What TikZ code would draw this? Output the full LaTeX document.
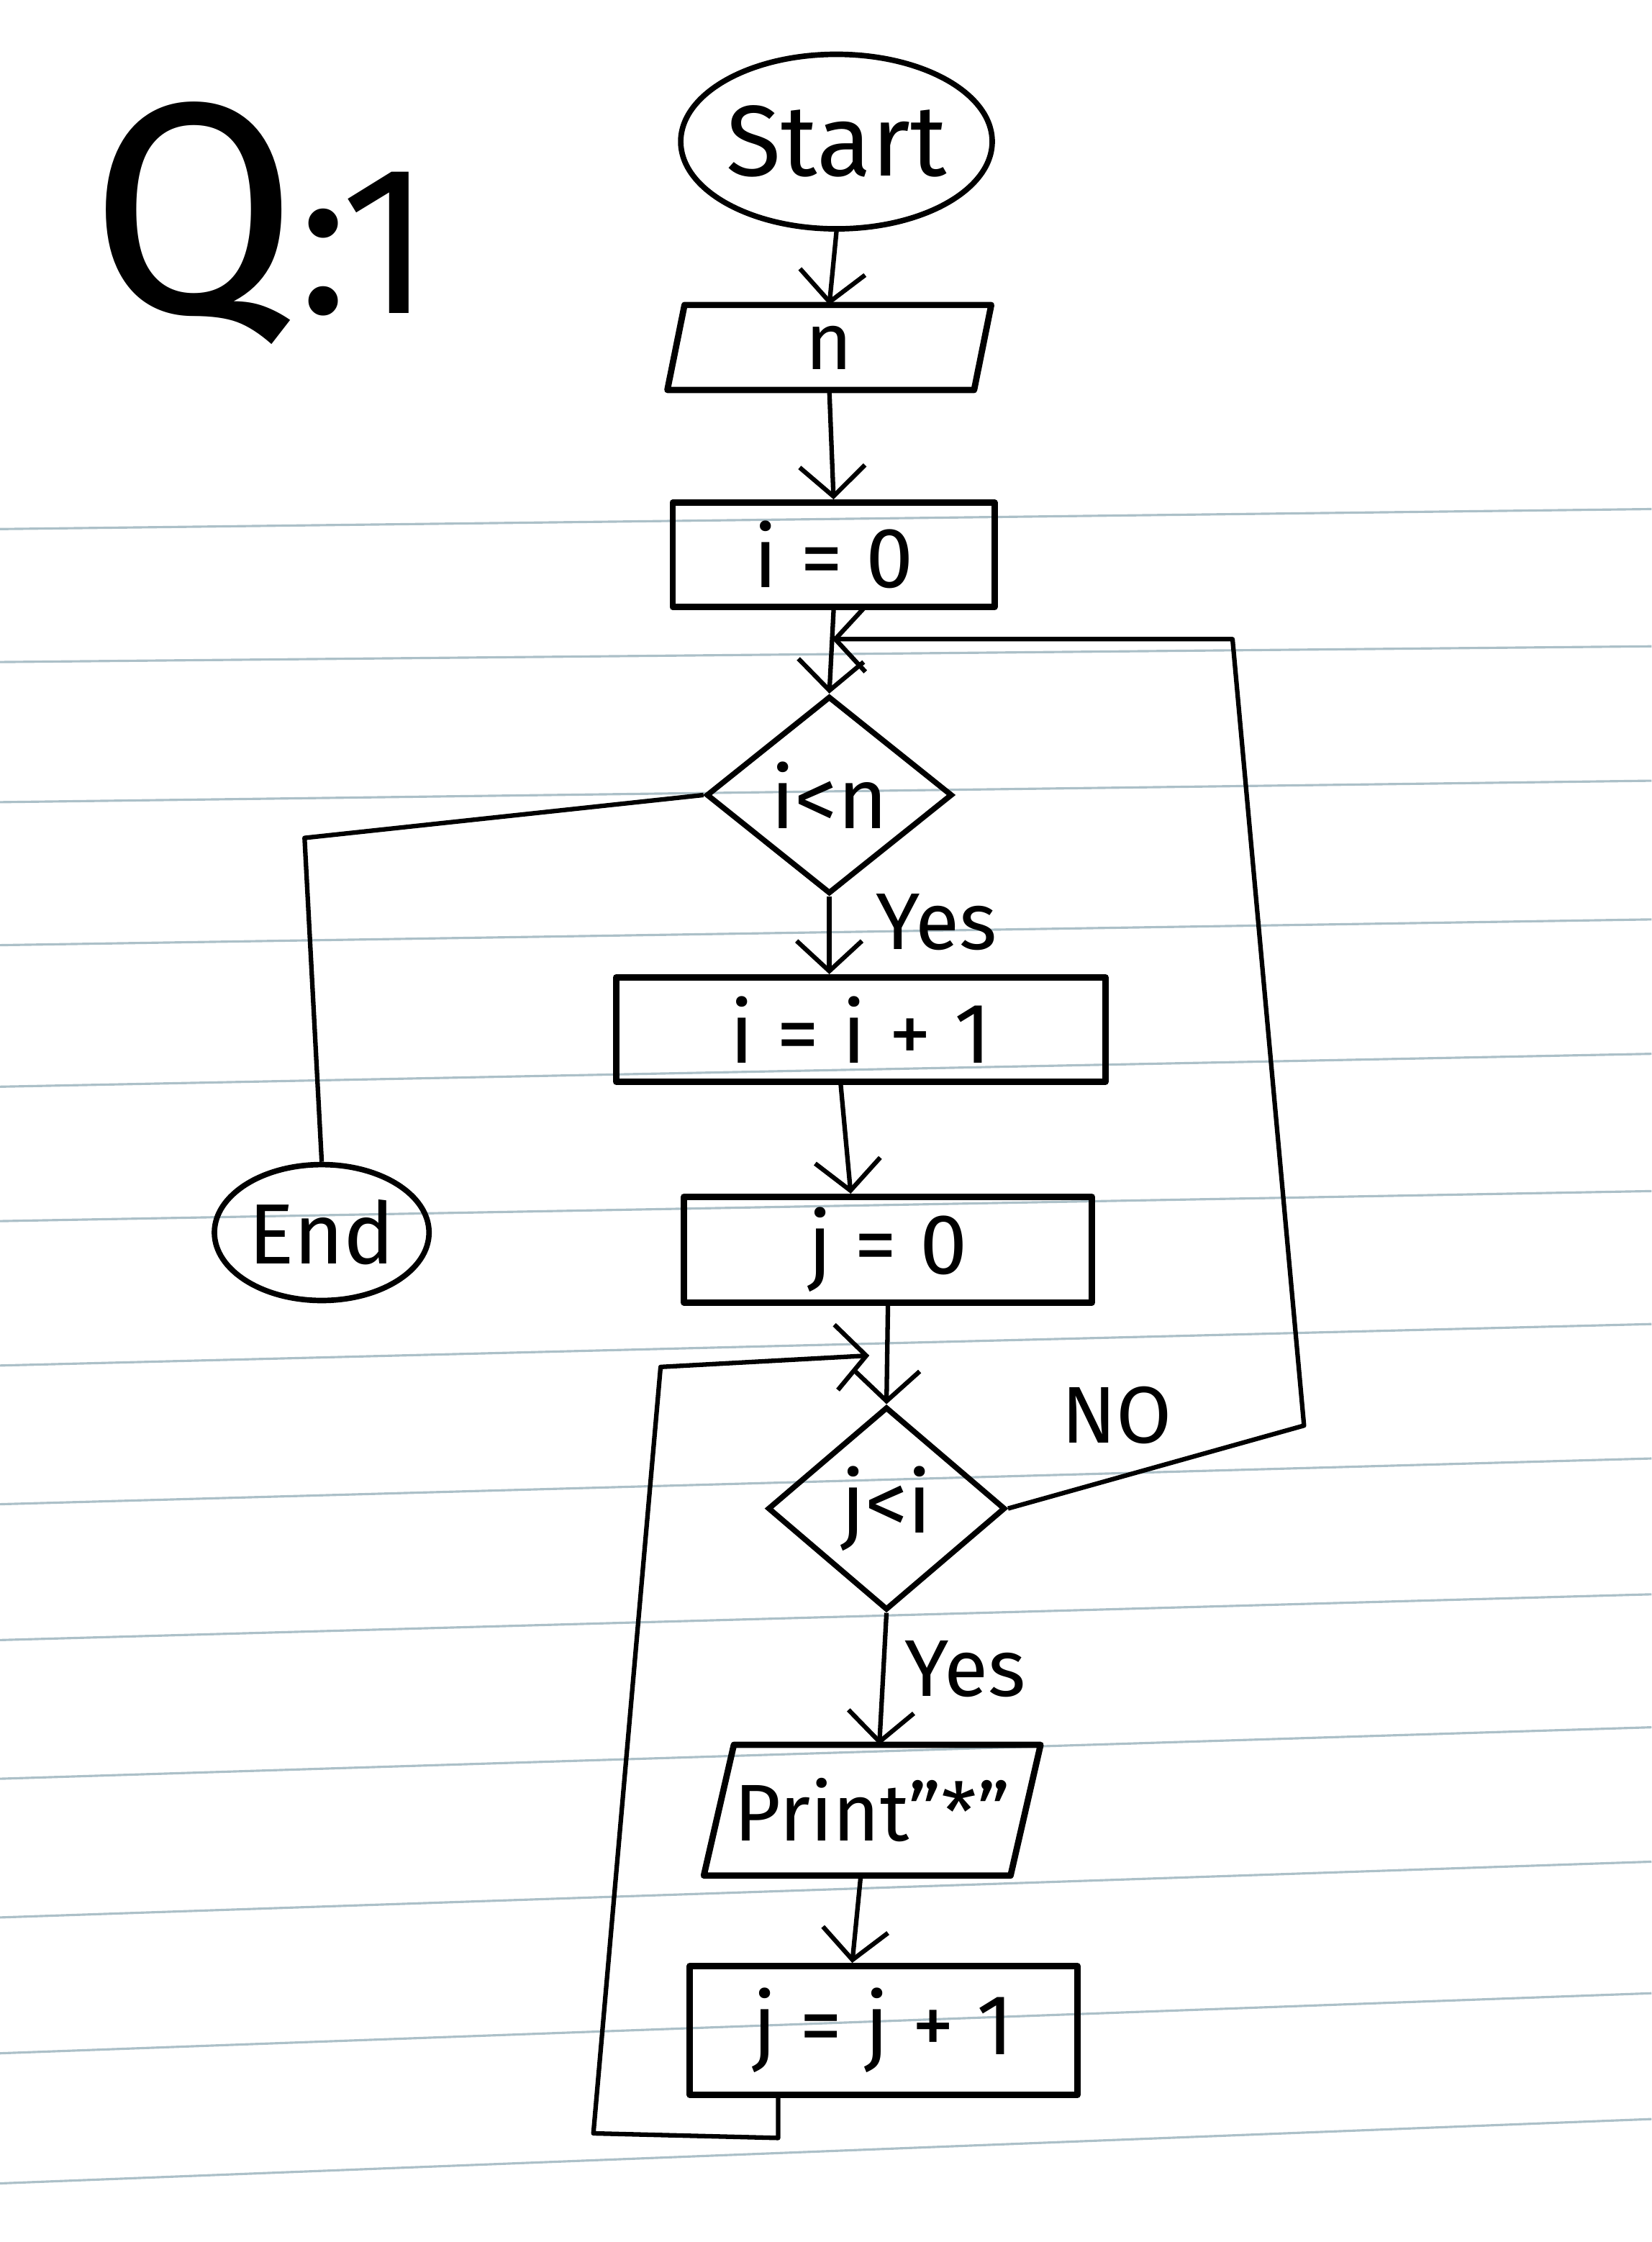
\documentclass[tikz,border=0pt]{standalone}
\usepackage{fontspec}
\setmainfont{Fira Sans}
\usetikzlibrary{shapes.geometric,arrows.meta,calc}
\definecolor{rulecol}{RGB}{172,192,200}

% outline of an input/output box: a parallelogram around node #1,
% its top edge moved right and its bottom edge moved left by #2
\newcommand{\slantoutline}[2]{%
  \draw[boxline] ($(#1.north west)+(#2,0)$) -- ($(#1.north east)+(#2,0)$)
    -- ($(#1.south east)+(-#2,0)$) -- ($(#1.south west)+(-#2,0)$) -- cycle;}

\begin{document}
\begin{tikzpicture}[x=0.01cm,y=-0.01cm,
  rule/.style={draw=rulecol, line width=0.45pt},
  boxline/.style={line width=1.25pt, line join=round},
  term/.style={draw, ellipse, line width=1.1pt, inner sep=0pt},
  procbox/.style={draw, rectangle, boxline, inner sep=0pt,
    font=\fontsize{17}{20}\selectfont},
  iobox/.style={rectangle, inner sep=0pt, font=\fontsize{16}{19}\selectfont},
  decision/.style={draw, diamond, line width=1.1pt, inner sep=0pt,
    font=\fontsize{17}{20}\selectfont},
  flow/.style={line width=0.9pt, line join=round},
  arr/.style={flow, -{Straight Barb[length=6pt,width=13pt,line width=0.9pt]}},
  lab/.style={font=\fontsize{16}{18}\selectfont, inner sep=0pt}
]
% page and its ruling
\fill[white] (0,0) rectangle (1155,1568);
\useasboundingbox (0,0) rectangle (1155,1568);
\foreach \l/\r in {370/356, 463/452, 561/546, 661/643, 760/737, 854/833,
                   955/926, 1052/1020, 1147/1115, 1244/1208, 1341/1302,
                   1436/1394, 1527/1482}
  \draw[rule] (0,\l) -- (1155,\r);

% heading
\node[anchor=base west, inner sep=0pt] (title) at (62,219)
  {{\fontsize{60}{60}\selectfont Q}{\fontsize{42}{42}\selectfont :1}};

% outer loop
\node[term, minimum width=1.94cm, minimum height=1.22cm,
      font=\fontsize{20}{24}\selectfont] (start) at (585,99) {Start};
\node[iobox, minimum width=2.13cm, minimum height=0.58cm] (n) at (580,243) {n};
\slantoutline{n}{6}
\node[procbox, minimum width=2.25cm, minimum height=0.73cm] (i0) at (583,388) {i = 0};
\node[decision, minimum width=1.72cm, minimum height=1.38cm] (d1) at (580,556) {i<n};
\node[procbox, minimum width=3.42cm, minimum height=0.73cm] (inc) at (602,720) {i = i + 1};
\node[term, minimum width=1.50cm, minimum height=0.95cm,
      font=\fontsize{17}{20}\selectfont] (end) at (225,862) {End};

% inner loop
\node[procbox, minimum width=2.85cm, minimum height=0.74cm] (j0) at (621,874) {j = 0};
\node[decision, minimum width=1.66cm, minimum height=1.42cm] (d2) at (620,1055) {j<i};
\node[iobox, minimum width=2.13cm, minimum height=0.90cm] (print) at (610,1266) {Print"*"};
\slantoutline{print}{10.5}
\node[procbox, minimum width=2.71cm, minimum height=0.90cm] (inc2) at (618,1420) {j = j + 1};

% branch labels
\node[lab] (yes1) at (655,645) {Yes};
\node[lab] (no) at (781,990) {NO};
\node[lab] (yes2) at (675,1167) {Yes};

% joints of the return paths
\coordinate (join1) at (582,447);
\coordinate (join2) at (608,948);
\coordinate (r1) at (912,997);
\coordinate (r2) at (862,447);
\coordinate (e1) at (213,586);
\coordinate (l0) at ($(inc2.south west)+(64,0)$);
\coordinate (l1) at ($(l0)+(0,28)$);
\coordinate (l2) at (415,1492);
\coordinate (l3) at (462,956);
\coordinate (p0) at ($(print.south)+(-8,0)$);

% main flow
\draw[arr] (start.south) -- (n.north);
\draw[arr] (n.south) -- (i0.north);
\draw[arr] (i0.south) -- (d1.north);
\draw[arr] (d1.south) -- (d1.south |- inc.north);
\draw[arr] ($(inc.south)+(-14,0)$) -- ($(j0.north)+(-26,0)$);
\draw[arr] (j0.south) -- (d2.north);
\draw[arr] (d2.south) -- ($(d2.south |- print.north)+(-5,0)$);
\draw[arr] (p0) -- ($(p0 |- inc2.north)+(-6,0)$);

% exit to End
\draw[flow] (d1.west) -- (e1) -- (end.north);

% NO: back to the outer test
\draw[arr] (d2.east) -- (r1) -- (r2) -- (join1);

% after j = j + 1: back to the inner test
\draw[arr] (l0) -- (l1) -- (l2) -- (l3) -- (join2);
\end{tikzpicture}
\end{document}
